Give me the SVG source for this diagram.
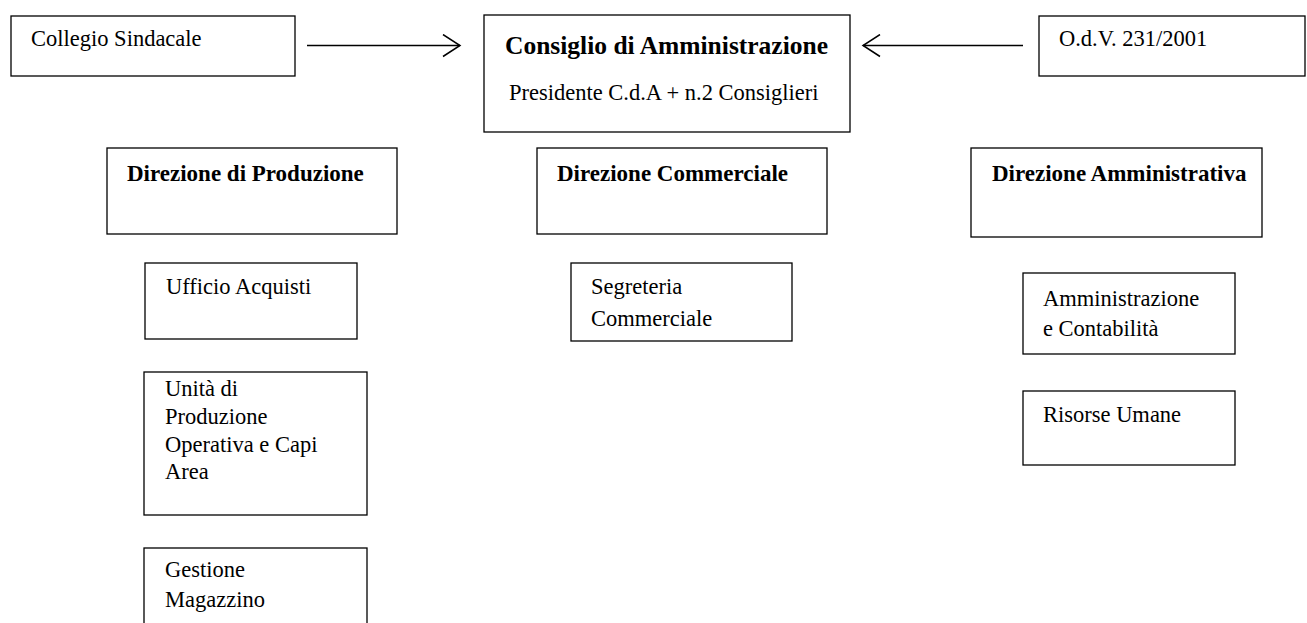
<svg xmlns="http://www.w3.org/2000/svg" width="1307" height="623" viewBox="0 0 1307 623">
<style>
.box{fill:#fff;stroke:#000;stroke-width:1.3}
.t{font-family:"Liberation Serif","Times New Roman",serif;font-size:22.5px;fill:#000}
.b{font-family:"Liberation Serif","Times New Roman",serif;font-size:23px;font-weight:bold;fill:#000}
.h{font-family:"Liberation Serif","Times New Roman",serif;font-size:25.5px;font-weight:bold;fill:#000}
.c{fill:none;stroke:#000;stroke-width:1.5}
</style>
<defs>
<marker id="open" viewBox="0 0 20 24" refX="18" refY="12" markerWidth="20" markerHeight="24" markerUnits="userSpaceOnUse" orient="auto">
<path d="M1,1 L18,12 L1,23" fill="none" stroke="#000" stroke-width="1.5"/>
</marker>
</defs>
<g id="connectors">
<line class="c" x1="307" y1="45.5" x2="460" y2="45.5" marker-end="url(#open)"/>
<line class="c" x1="1023" y1="45.5" x2="863" y2="45.5" marker-end="url(#open)"/>
</g>
<g id="collegio">
<rect class="box" x="11" y="16" width="284" height="60"/>
<text class="t" x="31" y="46">Collegio Sindacale</text>
</g>
<g id="cda">
<rect class="box" x="484" y="15" width="366" height="117"/>
<text class="h" x="505" y="54">Consiglio di Amministrazione</text>
<text class="t" x="509" y="100">Presidente C.d.A + n.2 Consiglieri</text>
</g>
<g id="odv">
<rect class="box" x="1039" y="16" width="266" height="60"/>
<text class="t" x="1059" y="46">O.d.V. 231/2001</text>
</g>
<g id="dir-produzione">
<rect class="box" x="107" y="148" width="290" height="86"/>
<text class="b" x="127" y="181">Direzione di Produzione</text>
</g>
<g id="dir-commerciale">
<rect class="box" x="537" y="148" width="290" height="86"/>
<text class="b" x="557" y="181">Direzione Commerciale</text>
</g>
<g id="dir-amministrativa">
<rect class="box" x="971" y="148" width="291" height="89"/>
<text class="b" x="992" y="181">Direzione Amministrativa</text>
</g>
<g id="ufficio-acquisti">
<rect class="box" x="145" y="263" width="212" height="76"/>
<text class="t" x="166" y="294">Ufficio Acquisti</text>
</g>
<g id="segreteria-commerciale">
<rect class="box" x="571" y="263" width="221" height="78"/>
<text class="t" x="591" y="294">Segreteria</text>
<text class="t" x="591" y="326">Commerciale</text>
</g>
<g id="amministrazione-contabilita">
<rect class="box" x="1023" y="273" width="212" height="81"/>
<text class="t" x="1043" y="306">Amministrazione</text>
<text class="t" x="1043" y="336">e Contabilità</text>
</g>
<g id="risorse-umane">
<rect class="box" x="1023" y="391" width="212" height="74"/>
<text class="t" x="1043" y="422">Risorse Umane</text>
</g>
<g id="unita-produzione">
<rect class="box" x="144" y="372" width="223" height="143"/>
<text class="t" x="165" y="396">Unità di</text>
<text class="t" x="165" y="424">Produzione</text>
<text class="t" x="165" y="452">Operativa e Capi</text>
<text class="t" x="165" y="479">Area</text>
</g>
<g id="gestione-magazzino">
<rect class="box" x="144" y="548" width="223" height="90"/>
<text class="t" x="165" y="577">Gestione</text>
<text class="t" x="165" y="607">Magazzino</text>
</g>
</svg>
